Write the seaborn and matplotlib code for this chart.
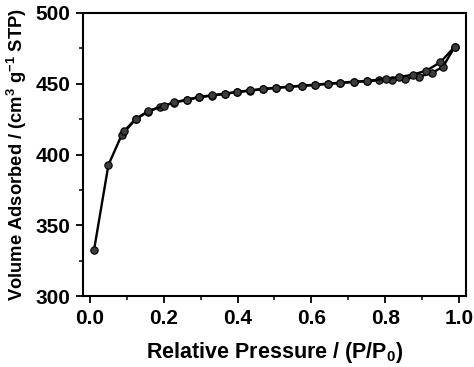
import numpy as np
import pandas as pd
import seaborn as sns
import matplotlib.pyplot as plt
from matplotlib.ticker import MultipleLocator

sns.set_style("ticks")
plt.rcParams['font.family'] = ['Liberation Sans', 'DejaVu Sans']
plt.rcParams['font.weight'] = 'bold'
plt.rcParams['mathtext.default'] = 'regular'
plt.rcParams['text.color'] = 'black'
plt.rcParams['axes.labelcolor'] = 'black'
plt.rcParams['xtick.color'] = 'black'
plt.rcParams['ytick.color'] = 'black'
plt.rcParams['axes.edgecolor'] = 'black'

# adsorption branch
ads_p = [0.011, 0.050, 0.086, 0.124, 0.158, 0.190, 0.228, 0.262, 0.295, 0.331,
         0.366, 0.399, 0.434, 0.469, 0.505, 0.539, 0.575, 0.610, 0.644, 0.679,
         0.715, 0.750, 0.784, 0.819, 0.855, 0.892, 0.926, 0.957, 0.989]
ads_v = [332.5, 392.6, 413.8, 424.9, 430.3, 433.8, 436.6, 438.5, 440.4, 441.6,
         442.8, 444.0, 445.1, 446.1, 447.0, 447.7, 448.4, 449.1, 449.8, 450.5,
         451.2, 451.7, 452.4, 452.7, 453.4, 455.0, 457.4, 462.0, 476.2]

# desorption branch
des_p = [0.989, 0.950, 0.912, 0.875, 0.838, 0.802, 0.750, 0.715, 0.679, 0.644,
         0.610, 0.575, 0.539, 0.505, 0.469, 0.434, 0.399, 0.366, 0.331, 0.295,
         0.262, 0.228, 0.200, 0.158, 0.124, 0.093]
des_v = [476.2, 465.2, 459.2, 456.4, 454.6, 453.4, 451.9, 451.4, 450.7, 450.0,
         449.3, 448.6, 447.9, 447.2, 446.3, 445.3, 444.2, 443.0, 441.8, 440.6,
         438.7, 436.8, 434.3, 430.6, 425.2, 416.6]

df_ads = pd.DataFrame({"p": ads_p, "v": ads_v})
df_des = pd.DataFrame({"p": des_p, "v": des_v})

fig, ax = plt.subplots(figsize=(4.74, 3.67), dpi=100)
plt.subplots_adjust(left=0.175, right=0.983, top=0.965, bottom=0.193)

style = dict(color='black', linewidth=1.7, marker='o', markersize=5.3,
             markerfacecolor='#3c3c3c', markeredgecolor='black',
             markeredgewidth=0.8, sort=False, estimator=None)
sns.lineplot(data=df_ads, x="p", y="v", ax=ax, **style)
sns.lineplot(data=df_des, x="p", y="v", ax=ax, **style)

ax.set_xlim(-0.019, 1.019)
ax.set_ylim(300, 500)
ax.xaxis.set_major_locator(MultipleLocator(0.2))
ax.xaxis.set_minor_locator(MultipleLocator(0.1))
ax.yaxis.set_major_locator(MultipleLocator(50))
ax.yaxis.set_minor_locator(MultipleLocator(25))
ax.xaxis.set_major_formatter(plt.FormatStrFormatter('%.1f'))

ax.tick_params(which='major', direction='out', length=5, width=1.3, labelsize=15, pad=4)
ax.tick_params(which='minor', direction='out', length=3, width=1.1)
for s in ax.spines.values():
    s.set_linewidth(1.5)
    s.set_visible(True)

ax.set_xlabel("Relative Pressure / (P/P$_0$)", fontsize=15.5, fontweight='bold', labelpad=9)
ax.set_ylabel("Volume Adsorbed / (cm$^3$ g$^{-1}$ STP)", fontsize=13.2, fontweight='bold', labelpad=5)

plt.savefig("out.png", dpi=100)
